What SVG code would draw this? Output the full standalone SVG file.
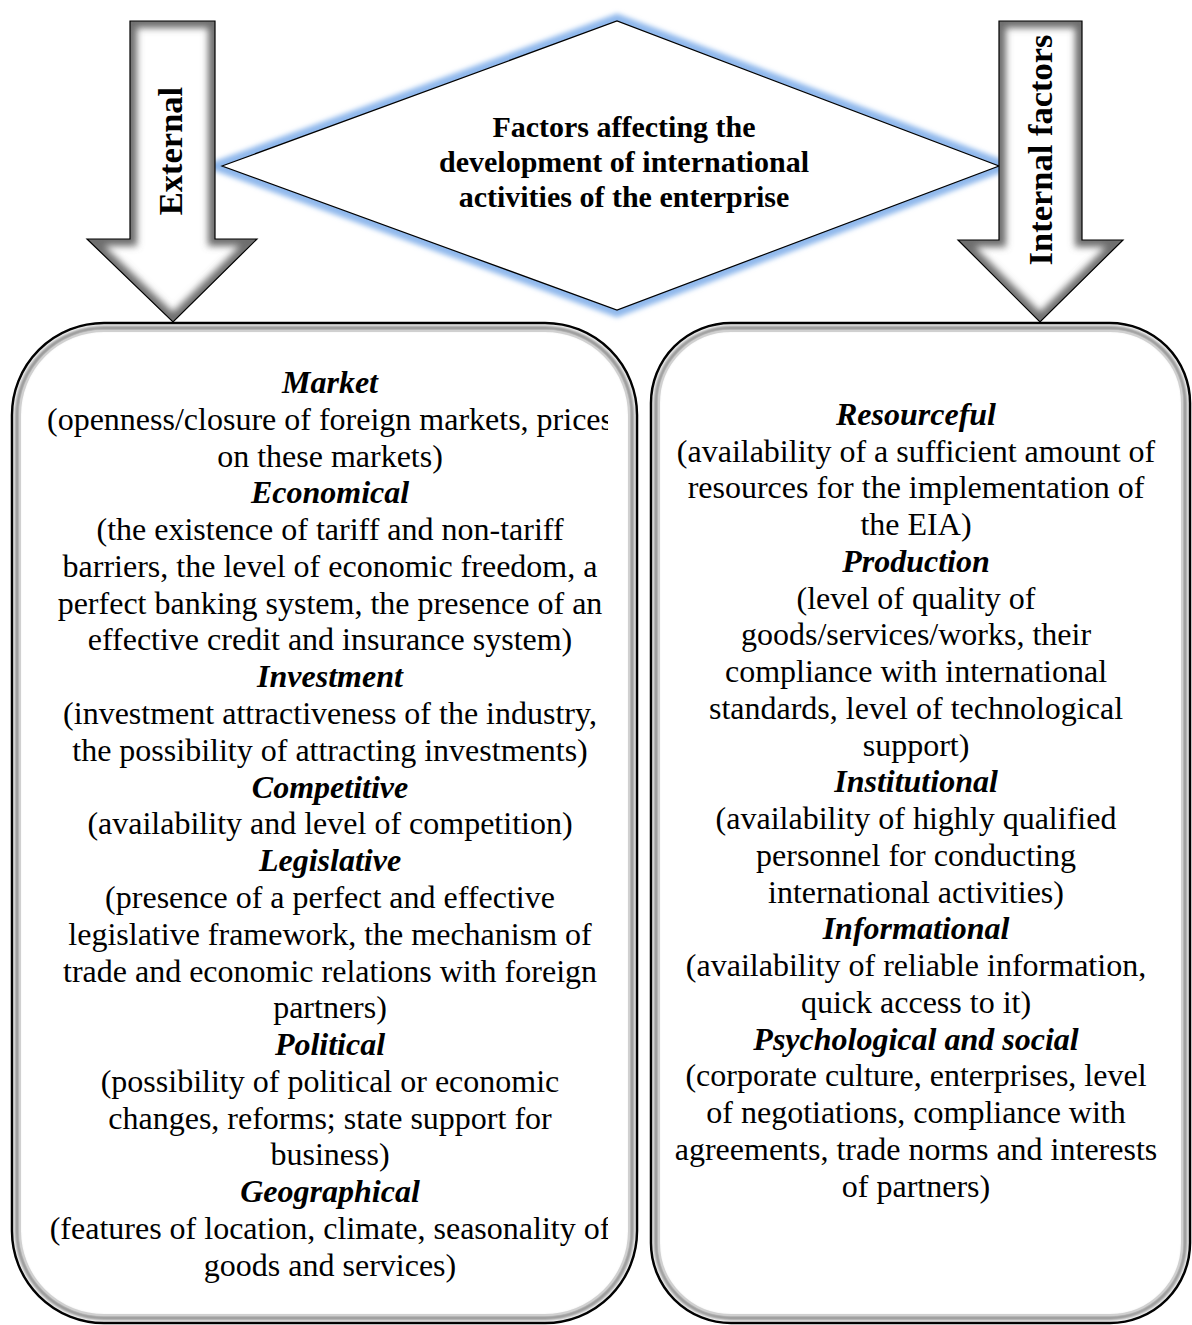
<svg xmlns="http://www.w3.org/2000/svg" width="1192" height="1325" viewBox="0 0 1192 1325">
<style>
.t{font-family:"Liberation Serif","Times New Roman",serif;font-size:32px;fill:#000;text-anchor:middle}
.h{font-weight:bold;font-style:italic}
.ttl{font-family:"Liberation Serif","Times New Roman",serif;font-size:30px;font-weight:bold;fill:#000;text-anchor:middle}
.lab{font-family:"Liberation Serif","Times New Roman",serif;font-size:34.5px;font-weight:bold;fill:#000;text-anchor:middle}
.edge{fill:none;stroke:#000;stroke-width:1.2}
.shade{fill:none;stroke:#6e6e6e;stroke-width:14}
</style>
<defs>
<filter id="blur" x="-20%" y="-20%" width="140%" height="140%"><feGaussianBlur stdDeviation="3.5"/></filter>
<filter id="glow" x="-10%" y="-10%" width="120%" height="120%"><feGaussianBlur stdDeviation="2.5"/></filter>
<filter id="bev" x="-5%" y="-5%" width="110%" height="110%"><feGaussianBlur stdDeviation="1.6"/></filter>
<path id="arrL" d="M130,21 H215 V239 H257 L173,322 L87,239 H130 Z"/>
<path id="arrR" d="M999,21 H1082 V240 H1123 L1040,322 L958,240 H999 Z"/>
<clipPath id="cL"><use href="#arrL"/></clipPath>
<clipPath id="cR"><use href="#arrR"/></clipPath>
<clipPath id="txtL"><rect x="14" y="330" width="594" height="990"/></clipPath>
<clipPath id="boxLc"><rect x="12" y="323" width="625" height="1000" rx="92"/></clipPath>
<clipPath id="boxRc"><rect x="651" y="323" width="539" height="1000" rx="80"/></clipPath>
</defs>

<g id="connectors">
<g id="diamond">
<polygon points="222,166 617,21 999,166 617,310" fill="none" stroke="#8fb8ec" stroke-width="14" filter="url(#glow)"/>
<polygon points="222,166 617,21 999,166 617,310" fill="#fff" stroke="#000" stroke-width="1.2"/>
</g>
<g id="arrow-external">
<use href="#arrL" fill="#fff"/>
<use href="#arrL" class="shade" filter="url(#blur)" clip-path="url(#cL)"/>
<use href="#arrL" class="edge"/>
<text class="lab" transform="translate(182,151) rotate(-90)">External</text>
</g>
<g id="arrow-internal">
<use href="#arrR" fill="#fff"/>
<use href="#arrR" class="shade" filter="url(#blur)" clip-path="url(#cR)"/>
<use href="#arrR" class="edge"/>
<text class="lab" transform="translate(1052,150) rotate(-90)">Internal factors</text>
</g>
</g>

<g id="title">
<text class="ttl" x="624" y="137">Factors affecting the</text>
<text class="ttl" x="624" y="172">development of international</text>
<text class="ttl" x="624" y="207">activities of the enterprise</text>
</g>

<g id="box-external">
<rect x="12" y="323" width="625" height="1000" rx="92" fill="#fff" stroke="#000" stroke-width="2.5"/>
<g clip-path="url(#boxLc)">
<rect x="17" y="328" width="615" height="990" rx="87" fill="none" stroke="#8a8a8a" stroke-width="4" filter="url(#bev)"/>
<rect x="20" y="331" width="609" height="984" rx="84" fill="none" stroke="#d0d0d0" stroke-width="2"/>
</g>
<g clip-path="url(#txtL)">
<text class="t h" x="330" y="393">Market</text>
<text class="t" x="330" y="430">(openness/closure of foreign markets, prices</text>
<text class="t" x="330" y="467">on these markets)</text>
<text class="t h" x="330" y="503">Economical</text>
<text class="t" x="330" y="540">(the existence of tariff and non-tariff</text>
<text class="t" x="330" y="577">barriers, the level of economic freedom, a</text>
<text class="t" x="330" y="614">perfect banking system, the presence of an</text>
<text class="t" x="330" y="650">effective credit and insurance system)</text>
<text class="t h" x="330" y="687">Investment</text>
<text class="t" x="330" y="724">(investment attractiveness of the industry,</text>
<text class="t" x="330" y="761">the possibility of attracting investments)</text>
<text class="t h" x="330" y="798">Competitive</text>
<text class="t" x="330" y="834">(availability and level of competition)</text>
<text class="t h" x="330" y="871">Legislative</text>
<text class="t" x="330" y="908">(presence of a perfect and effective</text>
<text class="t" x="330" y="945">legislative framework, the mechanism of</text>
<text class="t" x="330" y="982">trade and economic relations with foreign</text>
<text class="t" x="330" y="1018">partners)</text>
<text class="t h" x="330" y="1055">Political</text>
<text class="t" x="330" y="1092">(possibility of political or economic</text>
<text class="t" x="330" y="1129">changes, reforms; state support for</text>
<text class="t" x="330" y="1165">business)</text>
<text class="t h" x="330" y="1202">Geographical</text>
<text class="t" x="330" y="1239">(features of location, climate, seasonality of</text>
<text class="t" x="330" y="1276">goods and services)</text>
</g>
</g>

<g id="box-internal">
<rect x="651" y="323" width="539" height="1000" rx="80" fill="#fff" stroke="#000" stroke-width="2.5"/>
<g clip-path="url(#boxRc)">
<rect x="656" y="328" width="529" height="990" rx="75" fill="none" stroke="#8a8a8a" stroke-width="4" filter="url(#bev)"/>
<rect x="659" y="331" width="523" height="984" rx="72" fill="none" stroke="#d0d0d0" stroke-width="2"/>
</g>
<text class="t h" x="916" y="425">Resourceful</text>
<text class="t" x="916" y="462">(availability of a sufficient amount of</text>
<text class="t" x="916" y="498">resources for the implementation of</text>
<text class="t" x="916" y="535">the EIA)</text>
<text class="t h" x="916" y="572">Production</text>
<text class="t" x="916" y="609">(level of quality of</text>
<text class="t" x="916" y="645">goods/services/works, their</text>
<text class="t" x="916" y="682">compliance with international</text>
<text class="t" x="916" y="719">standards, level of technological</text>
<text class="t" x="916" y="756">support)</text>
<text class="t h" x="916" y="792">Institutional</text>
<text class="t" x="916" y="829">(availability of highly qualified</text>
<text class="t" x="916" y="866">personnel for conducting</text>
<text class="t" x="916" y="903">international activities)</text>
<text class="t h" x="916" y="939">Informational</text>
<text class="t" x="916" y="976">(availability of reliable information,</text>
<text class="t" x="916" y="1013">quick access to it)</text>
<text class="t h" x="916" y="1050">Psychological and social</text>
<text class="t" x="916" y="1086">(corporate culture, enterprises, level</text>
<text class="t" x="916" y="1123">of negotiations, compliance with</text>
<text class="t" x="916" y="1160">agreements, trade norms and interests</text>
<text class="t" x="916" y="1197">of partners)</text>
</g>
</svg>
